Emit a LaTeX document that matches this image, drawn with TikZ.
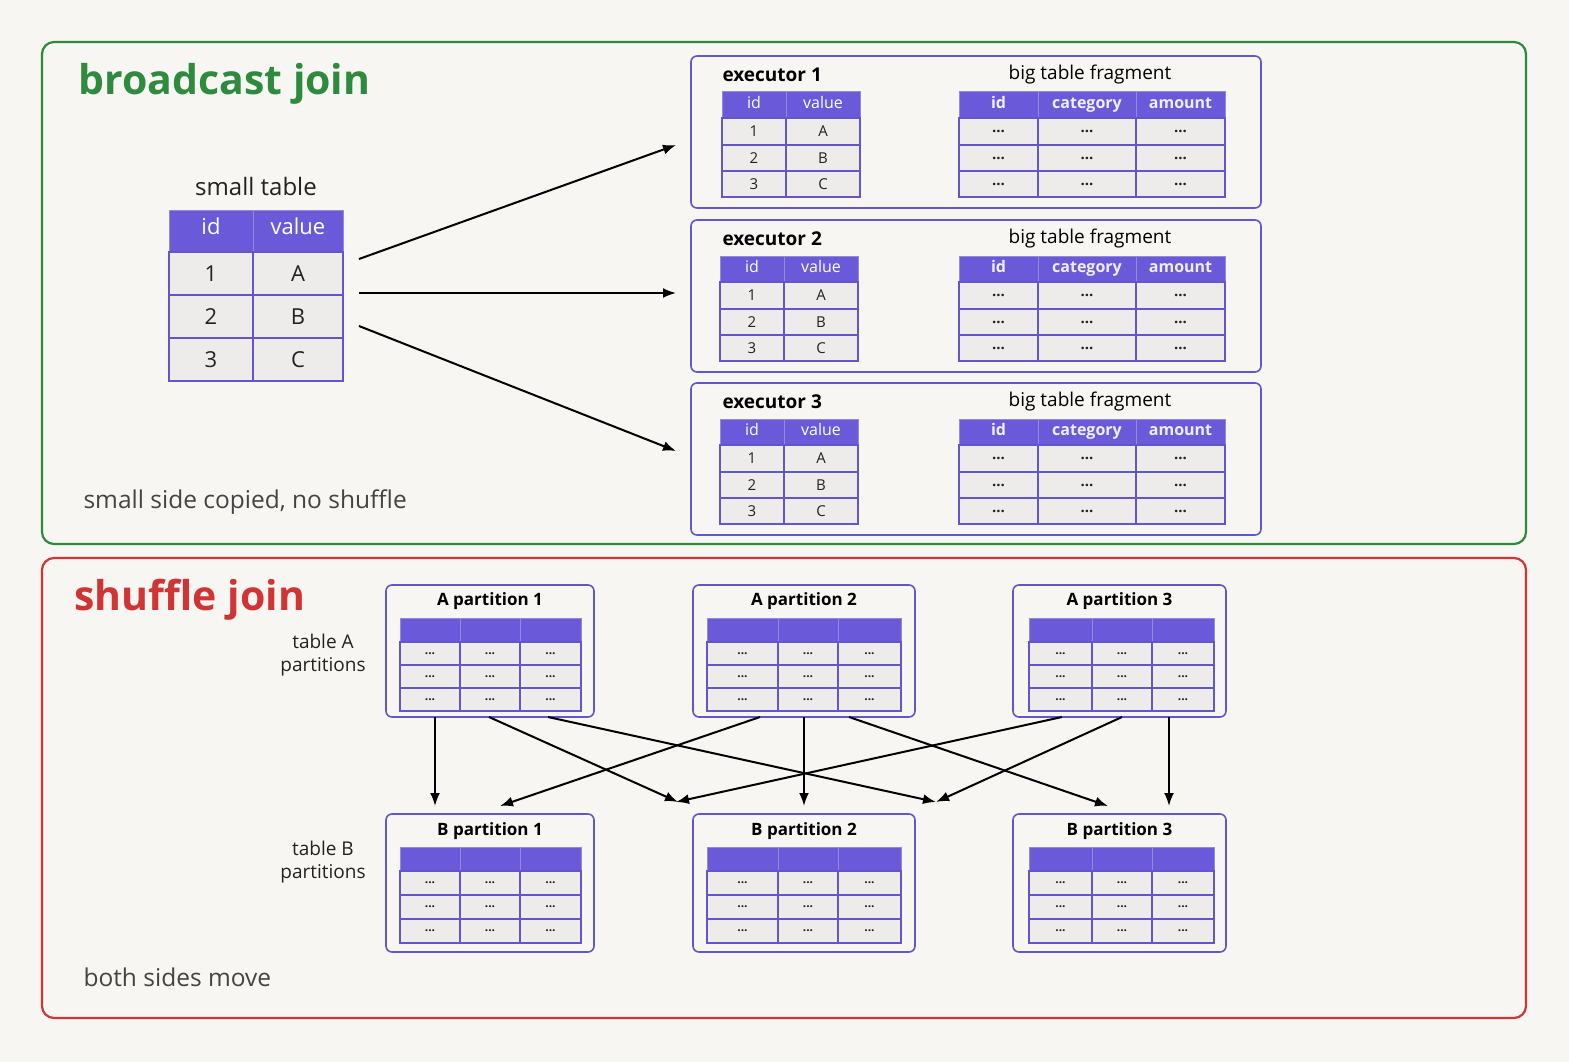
\documentclass[tikz,border=0pt]{standalone}
\usepackage{fontspec}
\setmainfont{Open Sans}
\usetikzlibrary{arrows.meta}
\definecolor{bg}{HTML}{F7F6F3}
\definecolor{grn}{HTML}{2E8B3E}
\definecolor{rd}{HTML}{D03434}
\definecolor{pur}{HTML}{6A5ADA}
\definecolor{pline}{HTML}{6356C8}
\definecolor{cellc}{HTML}{EDECEA}
\definecolor{txt}{HTML}{222222}
\definecolor{gtx}{HTML}{444444}
\tikzset{
 hdrcell/.style={fill=pur,draw=pline!70!white,line width=1pt},
 bodycell/.style={fill=cellc,draw=pline,line width=1.2pt},
 panel/.style={draw=pline,line width=1.6pt,rounded corners=6pt,fill=bg},
 frame/.style={line width=2.2pt,rounded corners=12pt},
 arr/.style={-{Latex[length=13pt,width=10pt]},line width=2pt,black},
 ttl/.style={font=\fontsize{41}{44}\selectfont\bfseries,anchor=west},
 lbl/.style={font=\fontsize{24.5}{28}\selectfont,text=gtx,anchor=west},
 ctext/.style={text height=1.6ex,text depth=.4ex,inner sep=0pt},
}
\newcommand\tabgrid[5]{%
 \foreach \xa/\xb in {#1}{\draw[hdrcell] (\xa,#2) rectangle (\xb,#3);
   \foreach \ya/\yb in {#4}{\draw[bodycell] (\xa,\ya) rectangle (\xb,\yb);
     \node[font=\fontsize{#5}{#5}\selectfont\bfseries,text=txt] at ({(\xa+\xb)/2},{(\ya+\yb)/2}) {...};}}}
\newcommand\partpair[4]{%
 \draw[panel] (#2,585) rectangle (#3,717);
 \node (A#1) at ({(#2+#3)/2},651) {};
 \node[font=\fontsize{17}{20}\selectfont\bfseries,text=black] at ({(#2+#3)/2},601) {A partition #1};
 \tabgrid{#4}{618}{642}{642/665,665/688,688/711}{12}
 \draw[panel] (#2,814) rectangle (#3,952);
 \node (B#1) at ({(#2+#3)/2},883) {};
 \node[font=\fontsize{17}{20}\selectfont\bfseries,text=black] at ({(#2+#3)/2},831) {B partition #1};
 \tabgrid{#4}{847}{871}{871/895,895/919,919/943}{12}}
\begin{document}
\begin{tikzpicture}[x=1pt,y=-1pt]
\useasboundingbox[fill=bg] (0,0) rectangle (1569,1062);
% frames
\draw[frame,draw=grn] (42,42) rectangle (1526,544);
\draw[frame,draw=rd] (42,558) rectangle (1526,1018);
\node[ttl,text=grn] (bt) at (75,84) {broadcast join};
\node[ttl,text=rd] (st) at (71,600) {shuffle join};
\node[lbl] (l1) at (80,502) {small side copied, no shuffle};
\node[lbl] (l2) at (80,977) {both sides move};
% small table
\node[font=\fontsize{24}{28}\selectfont,text=txt] (stl) at (256,186) {small table};
\foreach \xa/\xb/\h in {169/253/id,253/343/value}{
 \draw[hdrcell] (\xa,210) rectangle (\xb,252);
 \node[ctext,font=\fontsize{22}{26}\selectfont,text=white] at ({(\xa+\xb)/2},231) {\h};}
\foreach \ya/\yb/\a/\b in {252/295/1/A,295/338/2/B,338/381/3/C}{
 \draw[bodycell] (169,\ya) rectangle (253,\yb);
 \draw[bodycell] (253,\ya) rectangle (343,\yb);
 \node[font=\fontsize{22}{26}\selectfont,text=txt] at (211,{(\ya+\yb)/2}) {\a};
 \node[font=\fontsize{22}{26}\selectfont,text=txt] at (298,{(\ya+\yb)/2}) {\b};}
\coordinate (s1) at (359,259); \coordinate (s2) at (359,293); \coordinate (s3) at (359,326);
% executors
\foreach \i/\o/\sx in {1/0/0,2/164/-2,3/327/-2}{
 \begin{scope}[yshift=-\o pt]
 \draw[panel] (691,56) rectangle (1261,208);
 \node (ex\i) at (976,132) {};
 \node[font=\fontsize{19}{22}\selectfont\bfseries,anchor=west,text=black] at (719,75) {executor \i};
 \node[font=\fontsize{19}{22}\selectfont,text=black] at (1090,75) {big table fragment};
 \begin{scope}[xshift=\sx pt]
 \foreach \xa/\xb/\h in {722/786/id,786/860/value}{
  \draw[hdrcell] (\xa,92) rectangle (\xb,118);
  \node[ctext,font=\fontsize{16}{18}\selectfont,text=white] at ({(\xa+\xb)/2},105) {\h};}
 \foreach \ya/\yb/\a/\b in {118/145/1/A,145/171/2/B,171/197/3/C}{
  \draw[bodycell] (722,\ya) rectangle (786,\yb);
  \draw[bodycell] (786,\ya) rectangle (860,\yb);
  \node[font=\fontsize{15}{18}\selectfont,text=txt] at (754,{(\ya+\yb)/2}) {\a};
  \node[font=\fontsize{15}{18}\selectfont,text=txt] at (823,{(\ya+\yb)/2}) {\b};}
 \end{scope}
 \tabgrid{959/1038,1038/1136,1136/1225}{92}{118}{118/145,145/171,171/197}{15}
 \foreach \xa/\xb/\h in {959/1038/id,1038/1136/category,1136/1225/amount}
  \node[ctext,font=\fontsize{16}{18}\selectfont\bfseries,text=white!90!pur] at ({(\xa+\xb)/2},105) {\h};
 \end{scope}}
\coordinate (e1) at (676,145); \coordinate (e2) at (676,293); \coordinate (e3) at (676,451);
\draw[arr] (s1) -- (e1);
\draw[arr] (s2) -- (e2);
\draw[arr] (s3) -- (e3);
% partitions
\partpair{1}{386}{594}{400/460,460/520,520/581}
\partpair{2}{693}{915}{707/778,778/838,838/901}
\partpair{3}{1013}{1226}{1029/1092,1092/1152,1152/1214}
\node[font=\fontsize{19}{23}\selectfont,text=txt,align=center] (ta) at (323,655) {table A\\partitions};
\node[font=\fontsize{19}{23}\selectfont,text=txt,align=center] (tb) at (323,862) {table B\\partitions};
\draw[arr] (435,717) -- (435,806);
\draw[arr] (489,717) -- (678,802);
\draw[arr] (548,717) -- (936,802);
\draw[arr] (760,717) -- (500,806);
\draw[arr] (804,717) -- (804,806);
\draw[arr] (849,717) -- (1108,806);
\draw[arr] (1062,717) -- (676,802);
\draw[arr] (1122,717) -- (936,802);
\draw[arr] (1169,717) -- (1169,806);
\end{tikzpicture}
\end{document}
